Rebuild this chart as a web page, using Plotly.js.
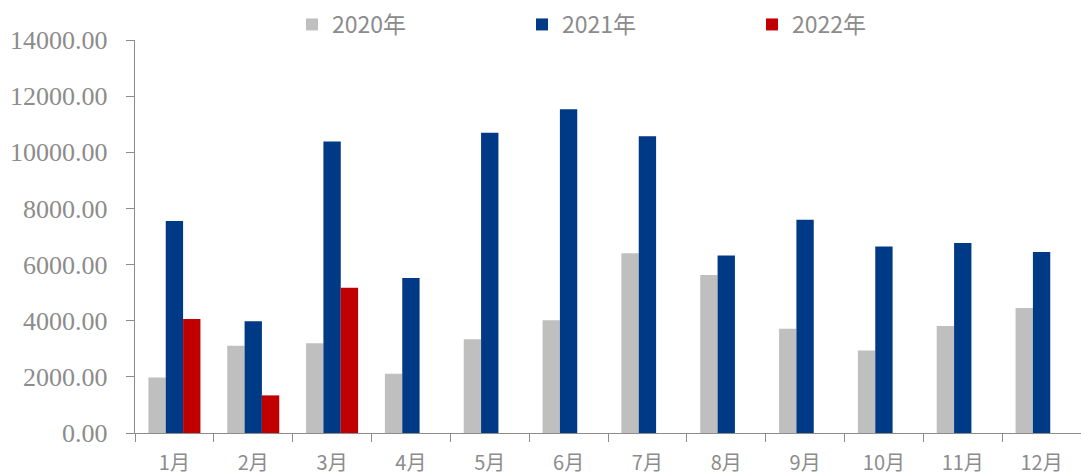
<!DOCTYPE html>
<html>
<head>
<meta charset="utf-8">
<script src="https://cdn.plot.ly/plotly-3.0.1.min.js"></script>
<style>html,body{margin:0;padding:0;background:#fff;}#chart{width:1081px;height:475px;}</style>
</head>
<body>
<div id="chart"></div>
<script>
const months = ["1月","2月","3月","4月","5月","6月","7月","8月","9月","10月","11月","12月"];
const y2020 = [1980, 3110, 3200, 2110, 3340, 4020, 6400, 5630, 3710, 2940, 3810, 4450];
const y2021 = [7550, 3985, 10380, 5525, 10700, 11530, 10570, 6320, 7600, 6640, 6770, 6450];
const y2022 = [4065, 1340, 5170, null, null, null, null, null, null, null, null, null];
const seriesNames = ["2020年", "2021年", "2022年"];
const yTicks = [0, 2000, 4000, 6000, 8000, 10000, 12000, 14000];

const colors = ["#BFBFBF", "#003A86", "#C00000"];
const data = [y2020, y2021, y2022].map((vals, i) => ({
  type: "bar",
  name: seriesNames[i],
  x: months,
  y: vals,
  marker: {color: colors[i], line: {width: 0}},
  hoverinfo: "x+y+name"
}));

const layout = {
  width: 1081, height: 475,
  margin: {l: 135, r: 0, t: 40, b: 42, pad: 0, autoexpand: false},
  paper_bgcolor: "#fff", plot_bgcolor: "#fff",
  barmode: "group",
  bargap: 0.34,
  bargroupgap: 0,
  showlegend: true,
  legend: {
    orientation: "h", x: 292 / 1081, xref: "container", xanchor: "left",
    y: 1 - 3 / 475, yanchor: "top", yref: "container",
    entrywidth: 185, entrywidthmode: "pixels",
    font: {family: "Noto Sans CJK SC, sans-serif", size: 23, color: "#8C8C8C"},
    itemclick: false, itemdoubleclick: false
  },
  xaxis: {
    type: "category",
    showline: true, linecolor: "#8C8C8C", linewidth: 1.3,
    ticks: "outside", ticklen: 8, tickcolor: "#8C8C8C", tickwidth: 1,
    tickson: "boundaries",
    ticklabelstandoff: 12,
    showgrid: false, zeroline: false,
    tickfont: {family: "Noto Sans CJK SC, sans-serif", size: 20, color: "#8C8C8C"},
    fixedrange: true
  },
  yaxis: {
    range: [0, 14000],
    tickvals: yTicks,
    ticktext: yTicks.map(v => v.toFixed(2)),
    showline: true, linecolor: "#8C8C8C", linewidth: 1.3,
    ticks: "outside", ticklen: 8, tickcolor: "#8C8C8C", tickwidth: 1,
    ticklabelstandoff: 13,
    showgrid: false, zeroline: false,
    tickfont: {family: "Liberation Serif, serif", size: 26, color: "#8C8C8C"},
    fixedrange: true
  }
};

Plotly.newPlot("chart", data, layout, {displayModeBar: false, staticPlot: true});
</script>
</body>
</html>
